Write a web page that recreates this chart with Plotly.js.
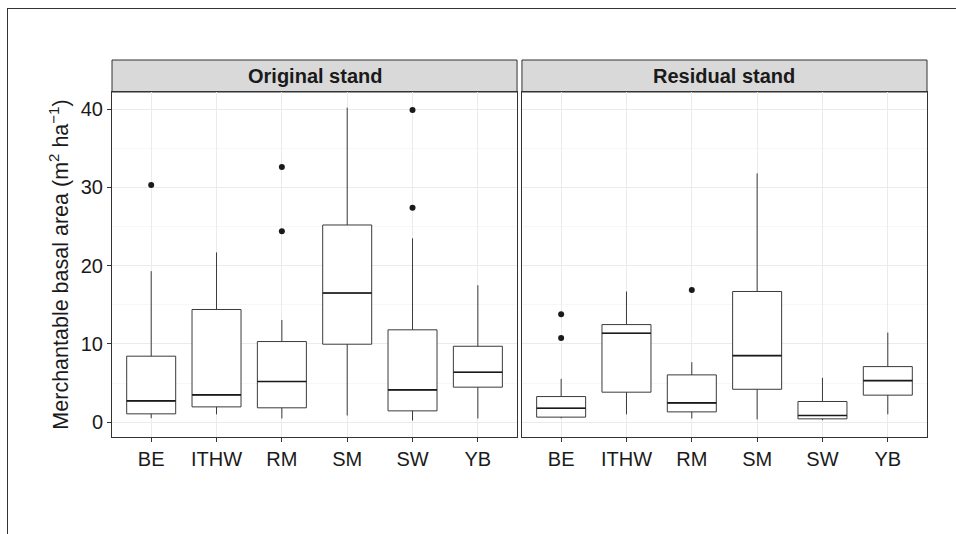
<!DOCTYPE html>
<html>
<head>
<meta charset="utf-8">
<script src="https://cdn.plot.ly/plotly-3.0.1.min.js"></script>
<style>
  html, body { margin: 0; padding: 0; background: #ffffff; }
  #wrap { position: relative; width: 956px; height: 534px; overflow: hidden; }
  #chart { position: absolute; left: 0; top: 0; width: 956px; height: 534px; }
  #frame { position: absolute; left: 7px; top: 8px; width: 960px; height: 540px;
           border-left: 1px solid #333; border-top: 1px solid #333; pointer-events: none; }
</style>
</head>
<body>
<div id="wrap">
  <div id="chart"></div>
  <div id="frame"></div>
</div>
<script>
// ---- Data ----
const species = ["BE", "ITHW", "RM", "SM", "SW", "YB"];
const panelTitles = ["Original stand", "Residual stand"];

// Original stand
const origLow    = [0.5, 1.0, 0.47, 0.85, 0.2, 0.47];
const origQ1     = [1.06, 1.95, 1.83, 9.96, 1.44, 4.47];
const origMedian = [2.72, 3.49, 5.19, 16.5, 4.13, 6.38];
const origQ3     = [8.43, 14.4, 10.3, 25.2, 11.8, 9.7];
const origHigh   = [19.3, 21.7, 13.06, 40.2, 23.5, 17.5];
const origOutX   = ["BE", "RM", "RM", "SW", "SW"];
const origOutY   = [30.3, 32.6, 24.4, 39.9, 27.4];

// Residual stand
const resLow    = [0.5, 1.0, 0.47, 0.34, 0.25, 1.0];
const resQ1     = [0.64, 3.83, 1.31, 4.2, 0.42, 3.45];
const resMedian = [1.78, 11.36, 2.46, 8.5, 0.85, 5.31];
const resQ3     = [3.27, 12.47, 6.04, 16.7, 2.64, 7.1];
const resHigh   = [5.53, 16.7, 7.66, 31.8, 5.66, 11.45];
const resOutX   = ["BE", "BE", "RM"];
const resOutY   = [13.8, 10.77, 16.9];

const yTitle = "Merchantable basal area (m<sup>2</sup> ha<sup>\u22121</sup>)";

// ---- Styles ----
const FONT = "Liberation Sans, Arial, Helvetica, sans-serif";
const boxLine = { color: "#3a3a3a", width: 1 };
const medLine = { color: "#1a1a1a", width: 1.6 };

function boxTrace(xa, ya, low, q1, med, q3, high) {
  return {
    type: "box", x: species, q1: q1, median: med, q3: q3,
    lowerfence: low, upperfence: high,
    xaxis: xa, yaxis: ya, width: 0.75, whiskerwidth: 0,
    boxpoints: false, fillcolor: "#ffffff", line: boxLine,
    hoverinfo: "skip", showlegend: false
  };
}
function medTrace(xa, ya, med) {
  return {
    type: "box", x: species, q1: med, median: med, q3: med,
    lowerfence: med, upperfence: med,
    xaxis: xa, yaxis: ya, width: 0.75, whiskerwidth: 0,
    boxpoints: false, fillcolor: "rgba(0,0,0,0)", line: medLine,
    hoverinfo: "skip", showlegend: false
  };
}
function outTrace(xa, ya, ox, oy) {
  return {
    type: "scatter", mode: "markers", x: ox, y: oy, xaxis: xa, yaxis: ya,
    marker: { color: "#1a1a1a", size: 6 }, hoverinfo: "skip", showlegend: false
  };
}

const data = [
  boxTrace("x", "y", origLow, origQ1, origMedian, origQ3, origHigh),
  medTrace("x", "y", origMedian),
  outTrace("x", "y", origOutX, origOutY),
  boxTrace("x2", "y2", resLow, resQ1, resMedian, resQ3, resHigh),
  medTrace("x2", "y2", resMedian),
  outTrace("x2", "y2", resOutX, resOutY)
];

const yTop = 0.9151;
const xCommon = {
  type: "category", categoryorder: "array", categoryarray: species,
  range: [-0.6, 5.6], showline: true, mirror: true, linecolor: "#333333", linewidth: 1,
  ticks: "outside", ticklen: 4, tickcolor: "#333333", tickwidth: 1,
  showgrid: true, gridcolor: "#ebebeb", gridwidth: 1, zeroline: false,
  tickfont: { family: FONT, size: 20, color: "#1a1a1a" }, fixedrange: true
};
const yCommon = {
  range: [-1.9, 42.2], dtick: 10, tick0: 0, domain: [0, yTop],
  showline: true, mirror: true, linecolor: "#333333", linewidth: 1,
  showgrid: true, gridcolor: "#ebebeb", gridwidth: 1, zeroline: false,
  minor: { dtick: 5, showgrid: true, gridcolor: "#f2f2f2", gridwidth: 0.6 },
  tickfont: { family: FONT, size: 20, color: "#1a1a1a" }, fixedrange: true
};

const layout = {
  width: 956, height: 534,
  margin: { l: 112, r: 29, t: 60, b: 97 },
  paper_bgcolor: "rgba(0,0,0,0)", plot_bgcolor: "#ffffff",
  showlegend: false, boxmode: "overlay",
  font: { family: FONT, color: "#1a1a1a" },
  xaxis: Object.assign({}, xCommon, { domain: [0, 0.497], anchor: "y" }),
  xaxis2: Object.assign({}, xCommon, { domain: [0.503, 1], anchor: "y2" }),
  yaxis: Object.assign({}, yCommon, {
    anchor: "x", ticks: "outside", ticklen: 4, tickcolor: "#333333", tickwidth: 1,
    title: { text: yTitle, font: { family: FONT, size: 21.5, color: "#1a1a1a" }, standoff: 6 }
  }),
  yaxis2: Object.assign({}, yCommon, { anchor: "x2", matches: "y", showticklabels: false, ticks: "" }),
  shapes: [
    { type: "rect", xref: "x domain", yref: "paper", x0: 0, x1: 1, y0: yTop, y1: 1,
      fillcolor: "#d9d9d9", line: { color: "#333333", width: 1 }, layer: "below" },
    { type: "rect", xref: "x2 domain", yref: "paper", x0: 0, x1: 1, y0: yTop, y1: 1,
      fillcolor: "#d9d9d9", line: { color: "#333333", width: 1 }, layer: "below" }
  ],
  annotations: [
    { xref: "x domain", yref: "paper", x: 0.5, y: (yTop + 1) / 2, xanchor: "center", yanchor: "middle",
      text: "<b>" + panelTitles[0] + "</b>", showarrow: false,
      font: { family: FONT, size: 20, color: "#1a1a1a" } },
    { xref: "x2 domain", yref: "paper", x: 0.5, y: (yTop + 1) / 2, xanchor: "center", yanchor: "middle",
      text: "<b>" + panelTitles[1] + "</b>", showarrow: false,
      font: { family: FONT, size: 20, color: "#1a1a1a" } }
  ]
};

Plotly.newPlot("chart", data, layout, { staticPlot: true, displayModeBar: false });
</script>
</body>
</html>
